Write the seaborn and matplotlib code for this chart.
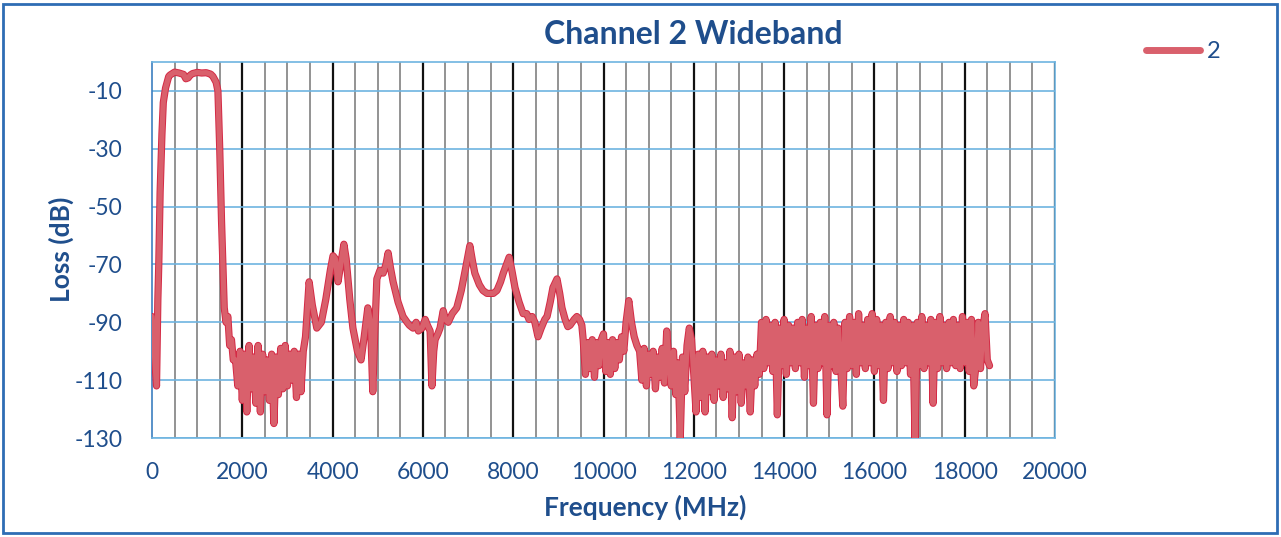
import numpy as np
import pandas as pd
import matplotlib
matplotlib.use("Agg")
import matplotlib.pyplot as plt
import matplotlib.patheffects as pe
from matplotlib.patches import Rectangle
from matplotlib.lines import Line2D
import seaborn as sns

# ---------------- data ----------------
# passband / smooth sections (freq MHz, loss dB)
freq_a = [0, 100, 130, 150, 180, 220, 250, 300, 370, 400, 500, 600, 700, 750, 800, 850,
          900, 1000, 1100, 1200, 1300, 1350, 1420, 1460, 1500, 1540, 1600, 1640, 1680,
          1720, 1760, 1800]
loss_a = [-88, -112, -82, -70, -45, -25, -14, -9, -5, -4.5, -3.5, -3.8, -4.3, -5.8, -5.5, -4.5,
          -4.0, -3.6, -3.8, -3.7, -4.2, -5.0, -7, -10, -30, -55, -85, -90, -88,
          -98, -96, -103]

# noisy band 1850..3350 (50 MHz grid)
noise1_start, noise1_step = 1850, 50
noise1 = [-103, -112, -100, -117, -101, -121, -98, -113, -102, -118, -98, -121, -101, -114,
          -103, -117, -101, -125, -102, -115, -99, -113, -98, -112, -101, -110, -100, -116,
          -101, -114, -100]

freq_b = [3400, 3430, 3480, 3550, 3650, 3750, 3850, 3950, 4010, 4060, 4120, 4180, 4250, 4300,
          4380, 4450, 4550, 4630, 4700, 4780, 4840, 4890, 4930, 4980, 5050, 5120, 5180, 5230,
          5280, 5340, 5450, 5560, 5650, 5700, 5780, 5850, 5900, 5980, 6050, 6100, 6160, 6200,
          6240, 6270, 6330, 6380, 6450, 6500, 6560, 6650, 6750, 6850, 6950, 7040, 7100, 7150,
          7250, 7330, 7420, 7490, 7560, 7640, 7720, 7780, 7850, 7910, 7970, 8040, 8130, 8220,
          8300, 8350, 8420, 8480, 8550, 8620, 8700, 8750, 8820, 8880, 8970, 9030, 9080, 9150,
          9210, 9260, 9350, 9410, 9470, 9520]
loss_b = [-95, -88, -76, -84, -92, -90, -82, -72, -67, -68, -76, -70, -63, -68,
          -82, -92, -100, -103, -95, -85, -90, -114, -95, -75, -72, -73, -70, -66,
          -71, -76, -83, -88, -90, -91, -92, -90, -93, -92, -89, -91, -93, -112,
          -100, -96, -94, -92, -86, -89, -90, -87, -85, -79, -71, -63.5, -69, -73,
          -77, -79, -80, -80, -80, -79, -76, -73, -70, -67.5, -72, -78, -83, -87,
          -87, -89, -88, -90, -95, -92, -89, -88, -83, -78, -75, -80, -85, -89,
          -91.5, -91, -89, -88, -89, -91]

# noisy band 9550..10450
noise2_start, noise2_step = 9550, 50
noise2 = [-96, -108, -97, -106, -96, -109, -97, -105, -96, -94, -107, -97, -108, -96, -106,
          -97, -103, -95, -100]

freq_c = [10500, 10560, 10620, 10680, 10740]
loss_c = [-90, -82.5, -90, -95, -98]

# noisy band 10800..18550
noise3_start, noise3_step = 10800, 50
noise3 = [-100, -110, -99, -112, -101, -108, -100, -113, -102, -109, -99, -111, -93, -104,
          -112, -100, -115, -104, -130, -102, -114, -98, -92, -96, -108, -121,
          -101, -116, -100, -121, -102, -114, -101, -117, -103, -112, -101, -116, -104, -113,
          -100, -123, -102, -114, -101, -118, -104, -112, -102, -121, -103, -112, -101, -108,
          -90, -106, -89, -104, -91, -107, -90, -122, -92, -105, -89, -108, -91, -104, -92,
          -106, -90, -104, -89, -109, -92, -105, -88, -118, -91, -106, -90, -104, -88, -122,
          -91, -105, -90, -107, -92, -104, -119, -90, -106, -88, -105, -90, -108, -87, -104,
          -91, -106, -89, -104, -87, -107, -89, -105, -91, -117, -90, -106, -88, -104, -90,
          -107, -91, -105, -89, -104, -90, -108, -91, -130, -90, -105, -88, -106, -91, -104,
          -89, -118, -90, -106, -88, -104, -91, -106, -90, -104, -89, -105, -91, -106, -88,
          -104, -90, -107, -89, -112, -105, -90, -106, -92, -87, -103, -105]

series_name = "2"
x_ticks = [0, 2000, 4000, 6000, 8000, 10000, 12000, 14000, 16000, 18000, 20000]
y_ticks = [-10, -30, -50, -70, -90, -110, -130]

# ---------------- assemble ----------------
def grid(start, step, vals):
    return [start + step * i for i in range(len(vals))]

freq = (freq_a + grid(noise1_start, noise1_step, noise1) + freq_b +
        grid(noise2_start, noise2_step, noise2) + freq_c +
        grid(noise3_start, noise3_step, noise3))
loss = loss_a + noise1 + loss_b + noise2 + loss_c + noise3
df = pd.DataFrame({"Frequency (MHz)": freq, "Loss (dB)": loss, "series": series_name})

# ---------------- plot ----------------
sns.set_theme(style="white")
plt.rcParams["font.family"] = ["Lato", "DejaVu Sans"]
text_col = "#1F4E8C"
grid_blue = "#6EB4E0"

fig = plt.figure(figsize=(12.81, 5.37), dpi=100)
ax = fig.add_axes([152 / 1281, 1 - 438 / 537, (1055 - 152) / 1281, (438 - 62) / 537])

line_col = "#D9606C"
sns.lineplot(data=df, x="Frequency (MHz)", y="Loss (dB)", hue="series",
             palette=[line_col], estimator=None, sort=False, ax=ax, linewidth=3.8,
             zorder=5, legend=False)
for ln in ax.lines:
    ln.set_path_effects([pe.Stroke(linewidth=5.2, foreground="#D42A45"), pe.Normal()])
    ln.set_solid_joinstyle("round")

ax.set_xlim(0, 20000)
ax.set_ylim(-130, 0)
ax.set_xticks(x_ticks)
ax.set_yticks(y_ticks)

for xv in np.arange(500, 20001, 500):
    major = (xv % 2000 == 0)
    ax.axvline(xv, color="#111111" if major else "#8A8A8A",
               lw=1.6 if major else 1.3, zorder=1)
for yv in y_ticks:
    ax.axhline(yv, color=grid_blue, lw=1.2, zorder=2)

for s in ax.spines.values():
    s.set_color(grid_blue)
    s.set_linewidth(1.2)
ax.spines["left"].set_color("#3C7FC0")

ax.tick_params(axis="both", length=0, labelsize=16.5, labelcolor=text_col)
ax.tick_params(axis="y", pad=21)
ax.tick_params(axis="x", pad=17)
ax.set_xticklabels([str(v) for v in x_ticks])
ax.set_yticklabels([str(v) for v in y_ticks])

ax.set_xlabel("Frequency (MHz)", fontsize=19, fontweight="bold", color=text_col)
ax.set_ylabel("Loss (dB)", fontsize=19, fontweight="bold", color=text_col)
ax.xaxis.set_label_coords((645 - 152) / 903, (438 - 495) / 376)
ax.yaxis.set_label_coords((74 - 152) / 903, (438 - 249) / 376)
fig.text(693 / 1281, 1 - 35 / 537, "Channel 2 Wideband", fontsize=23, fontweight="bold",
         color=text_col, ha="center", va="center")

handle = Line2D([0], [0], color=line_col, lw=5, solid_capstyle="round")
fig.legend([handle], [series_name], loc="center left",
           bbox_to_anchor=(1129 / 1281, 1 - 52 / 537), frameon=False,
           fontsize=17, handlelength=2.3, handletextpad=0.3, labelcolor=text_col,
           borderpad=0.2)

fig.patches.append(Rectangle((3 / 1281, 4 / 537), 1274 / 1281, 529 / 537,
                             transform=fig.transFigure, fill=False,
                             edgecolor="#2E6DB4", lw=2))

fig.savefig("out.png", dpi=100)
